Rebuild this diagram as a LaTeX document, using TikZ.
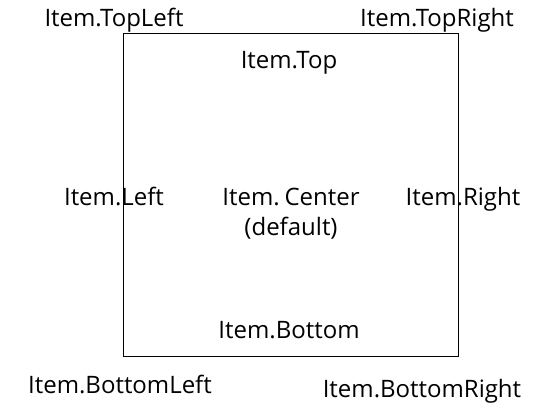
\documentclass[tikz,border=0pt]{standalone}
\usepackage{fontspec}
\setmainfont{Open Sans}
\begin{document}
\begin{tikzpicture}[x=1pt,y=-1pt,
  lbl/.style={font=\fontsize{24}{30}\selectfont, inner sep=0pt, anchor=base}]
\useasboundingbox (0,0) rectangle (535,405);
% item frame
\draw[line width=1pt] (123.5,33.5) rectangle (458.5,356.5);
% alignment labels
\node[lbl] (tl) at (114,26) {Item.TopLeft};
\node[lbl] (tr) at (437,26) {Item.TopRight};
\node[lbl] (t) at (289,68) {Item.Top};
\node[lbl] (l) at (114,205) {Item.Left};
\node[lbl] (c) at (291,205) {Item.\hspace{0.2em}Center};
\node[lbl] (cd) at (291,235) {(default)};
\node[lbl] (r) at (463,205) {Item.Right};
\node[lbl] (b) at (289,338) {Item.Bottom};
\node[lbl] (bl) at (120,393) {Item.BottomLeft};
\node[lbl] (br) at (422,397) {Item.BottomRight};
\end{tikzpicture}
\end{document}
